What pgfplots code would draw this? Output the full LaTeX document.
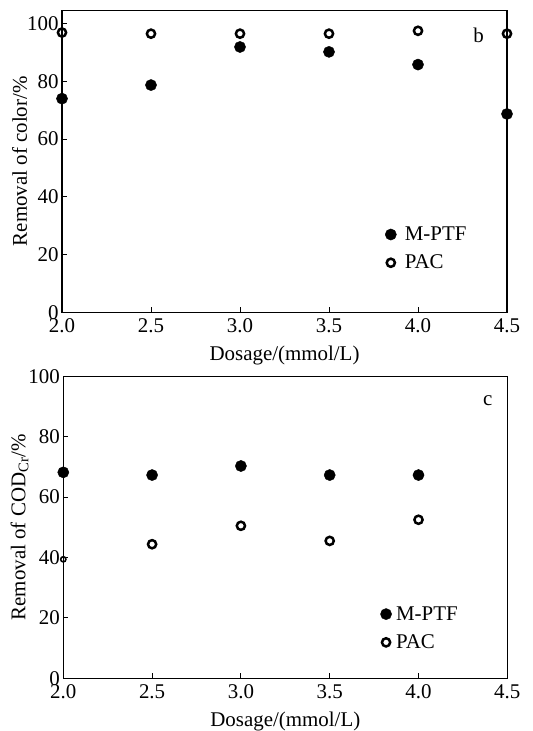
\documentclass[border=0pt]{standalone}
\usepackage{fontspec}
\setmainfont{Liberation Serif}
\usepackage{pgfplots}
\pgfplotsset{compat=1.18}
\begin{document}
\begin{tikzpicture}
\pgfplotsset{
 myax/.style={
  scale only axis, width=445bp, height=302bp,
  xmin=2, xmax=4.5, ymin=0,
  xtick={2,2.5,3,3.5,4,4.5}, ytick={0,20,40,60,80,100},
  tick align=inside, xtick pos=bottom, ytick pos=left,
  major tick length=5bp,
  axis line style={line width=1.1bp},
  every tick/.style={line width=1bp, black},
  font=\fontsize{21}{25}\selectfont,
  /pgf/number format/assume math mode=true,
  xticklabel style={yshift=-3bp, /pgf/number format/.cd, fixed, fixed zerofill, precision=1},
  clip=false,
  xlabel={Dosage/(mmol/L)},
  xlabel shift=6bp,
  ylabel shift=-7bp,
  legend style={draw=none, fill=none, font=\fontsize{21}{25}\selectfont, row sep=9bp, inner sep=0bp},
  legend cell align=left,
 },
 filled/.style={only marks, mark=*, mark size=5.6bp, black},
 open/.style={only marks, mark=o, mark size=4.1bp, line width=2.5bp, black},
}
\begin{axis}[myax, name=top, at={(0,0)}, ymax=104.6, ylabel={Removal of color/\%},
  legend style={at={(0.725,0.29)}, anchor=north west},
  legend image code/.code={\draw[#1, only marks] plot coordinates {(6bp,0bp)}; \path[draw=none,fill=none] (0bp,-1bp) rectangle (18bp,1bp);}]
\addplot[filled] coordinates {(2,74)(2.5,78.7)(3,91.9)(3.5,90.2)(4,85.8)(4.5,68.7)};
\addlegendentry{M-PTF}
\addplot[open] coordinates {(2,96.9)(2.5,96.5)(3,96.5)(3.5,96.5)(4,97.5)(4.5,96.5)};
\addlegendentry{PAC}
\node[font=\fontsize{21}{25}\selectfont] at (axis cs:4.34,95.8) {b};
\end{axis}
\begin{axis}[myax, name=bot, at={(1.3bp,-366bp)}, width=444bp, ymax=100, ylabel={Removal of COD\textsubscript{Cr}/\%},
  legend style={at={(0.713,0.245)}, anchor=north west},
  legend image code/.code={\draw[#1, only marks] plot coordinates {(6bp,0bp)}; \path[draw=none,fill=none] (0bp,-1bp) rectangle (14bp,1bp);}]
\addplot[filled] coordinates {(2,68.2)(2.5,67.3)(3,70.3)(3.5,67.3)(4,67.3)};
\addlegendentry{M-PTF}
\addplot[open] coordinates {(2.5,44.4)(3,50.5)(3.5,45.5)(4,52.5)};
\addlegendentry{PAC}
\addplot[only marks, mark=o, mark size=2.6bp, line width=1.6bp, black, forget plot] coordinates {(2,39.4)};
\node[font=\fontsize{21}{25}\selectfont] at (axis cs:4.39,92) {c};
\end{axis}
\pgfresetboundingbox
\path (-62bp,312.3bp) rectangle (471bp,-418.7bp);
\end{tikzpicture}
\end{document}
